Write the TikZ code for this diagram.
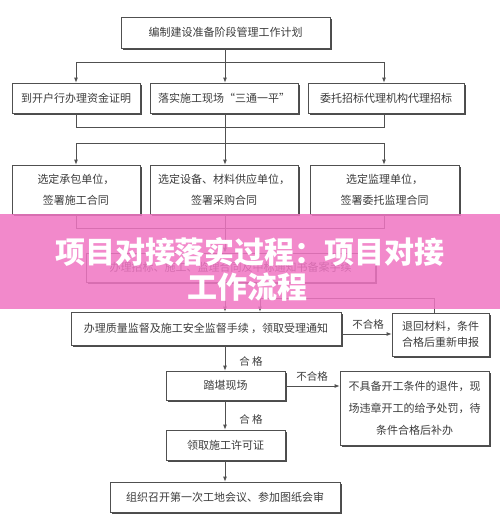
\documentclass[tikz,border=0pt]{standalone}
\usepackage{fontspec}
\newfontfamily\cjk{Noto Sans CJK SC}
\usetikzlibrary{arrows.meta,shadows}
\definecolor{boxline}{RGB}{80,80,80}
\definecolor{txt}{RGB}{60,60,60}
\definecolor{bannerpink}{RGB}{240,117,195}
\begin{document}
\begin{tikzpicture}[x=1pt,y=-1pt,
  box/.style={draw=boxline,line width=0.8pt,fill=white,inner sep=0pt,align=center,
    text=txt,font=\cjk\fontsize{11}{21}\selectfont,
    drop shadow={shadow xshift=1.6pt,shadow yshift=-1.6pt,fill=black!70,opacity=1}},
  ln/.style={draw=boxline,line width=0.8pt},
  arr/.style={ln,-{Latex[length=5pt,width=4pt]}},
  lbl/.style={text=txt,font=\cjk\fontsize{10.5}{12}\selectfont,inner sep=0pt}]
\useasboundingbox (0,0) rectangle (500,525);
\fill[white] (0,0) rectangle (500,525);
% boxes
\node[box,minimum width=209pt,minimum height=31pt] (top) at (225.5,32.5) {编制建设准备阶段管理工作计划};
\node[box,minimum width=128pt,minimum height=30pt] (a1) at (76,98) {到开户行办理资金证明};
\node[box,minimum width=148pt,minimum height=30pt] (a2) at (224,98) {落实施工现场“三通一平”};
\node[box,minimum width=156pt,minimum height=30pt] (a3) at (386,98) {委托招标代理机构代理招标};
\node[box,minimum width=128pt,minimum height=49pt] (b1) at (76,189.5) {选定承包单位，\\签署施工合同};
\node[box,minimum width=148pt,minimum height=49pt] (b2) at (224,189.5) {选定设备、材料供应单位，\\签署采购合同};
\node[box,minimum width=149pt,minimum height=49pt] (b3) at (384.5,189.5) {选定监理单位，\\签署委托监理合同};
\node[box,minimum width=289pt,minimum height=29pt] (c) at (230.5,267.5) {办理招标、施工、监理合同及中标通知书备案手续};
\node[box,minimum width=270pt,minimum height=33pt] (d) at (206,328.5) {办理质量监督及施工安全监督手续 ，领取受理通知};
\node[box,minimum width=97pt,minimum height=43pt,font=\cjk\fontsize{11}{15.5}\selectfont] (e) at (440.5,334.5) {退回材料，条件\\合格后重新申报};
\node[box,minimum width=119pt,minimum height=29pt] (f) at (225.5,385.5) {踏堪现场};
\node[box,minimum width=149pt,minimum height=74pt,font=\cjk\fontsize{11}{22}\selectfont] (g) at (414.5,408) {不具备开工条件的退件，现\\场违章开工的给予处罚，待\\条件合格后补办};
\node[box,minimum width=119pt,minimum height=30pt] (h) at (225.5,445) {领取施工许可证};
\node[box,minimum width=230pt,minimum height=30pt] (i) at (225,497) {组织召开第一次工地会议、参加图纸会审};
% junction coordinates
\coordinate (j1a) at (76,62); \coordinate (j1b) at (225,62); \coordinate (j1c) at (384,62);
\coordinate (j2a) at (76,127); \coordinate (j2c) at (384,127);
\coordinate (j3a) at (76,143); \coordinate (j3b) at (225,143); \coordinate (j3c) at (384,143);
\coordinate (j4a) at (76,228); \coordinate (j4b) at (225,228); \coordinate (j4c) at (384,228);
\coordinate (r1) at (434,298); \coordinate (r2) at (260,298);
% connectors
\draw[ln] (top.south -| j1b) -- (j1b);
\draw[ln] (j1a) -- (j1c);
\draw[arr] (j1a) -- (j1a |- a1.north);
\draw[arr] (j1b) -- (j1b |- a2.north);
\draw[arr] (j1c) -- (j1c |- a3.north);
\draw[ln] (j2a |- a1.south) -- (j2a) -- (j2c) -- (j2c |- a3.south);
\draw[ln] (j3b |- a2.south) -- (j3b);
\draw[ln] (j3a) -- (j3c);
\draw[arr] (j3a) -- (j3a |- b1.north);
\draw[arr] (j3b) -- (j3b |- b2.north);
\draw[arr] (j3c) -- (j3c |- b3.north);
\draw[ln] (j4a |- b1.south) -- (j4a) -- (j4c) -- (j4c |- b3.south);
\draw[ln] (j4b |- b2.south) -- (j4b);
\draw[arr] (j4b) -- (j4b |- c.north);
\draw[arr] (j4b |- c.south) -- (j4b |- d.north);
\draw[ln] (r1 |- e.north) -- (r1) -- (r2);
\draw[arr] (r2) -- (r2 |- d.north);
\draw[arr] (d.east |- 0,334) -- (e.west |- 0,334);
\node[lbl] (l1) at (368,324) {不合格};
\draw[arr] (j4b |- d.south) -- (j4b |- f.north);
\node[lbl] (l2) at (251,361) {合\ 格};
\draw[arr] (f.east |- 0,386) -- (g.west |- 0,386);
\node[lbl] (l3) at (312,376) {不合格};
\draw[arr] (j4b |- f.south) -- (j4b |- h.north);
\node[lbl] (l4) at (251,419) {合\ 格};
\draw[arr] (j4b |- h.south) -- (j4b |- i.north);
% banner overlay
\fill[bannerpink,opacity=0.85] (0,214) rectangle (500,309);
\node[text=white,font=\cjk\bfseries\fontsize{30}{35}\selectfont,inner sep=0pt] (t1) at (250,252) {项目对接落实过程：项目对接};
\node[text=white,font=\cjk\bfseries\fontsize{30}{35}\selectfont,inner sep=0pt] (t2) at (247,287) {工作流程};
\end{tikzpicture}
\end{document}
